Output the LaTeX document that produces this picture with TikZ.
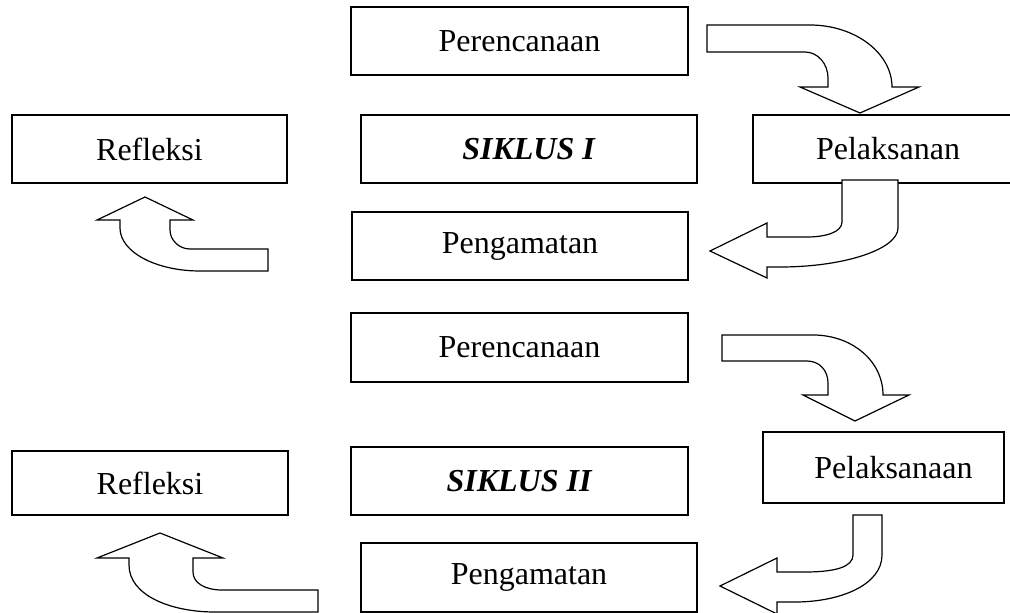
\documentclass[tikz,border=0pt]{standalone}
\usepackage{fontspec}
\setmainfont{Liberation Serif}
\begin{document}
\begin{tikzpicture}[x=0.75pt,y=-0.75pt,
  box/.style={draw=black, line width=1.2pt, fill=white, inner sep=0pt,
    font=\fontsize{24}{28}\selectfont},
  blockarrow/.style={draw=black, line width=0.9pt, fill=white, line join=miter}]
\useasboundingbox (0,0) rectangle (1010,613);
\clip (0,0) rectangle (1010,613);

% ---- Siklus I ----
\node[box, minimum width=252.75pt, minimum height=51pt] (per1) at (519.5,41) {Perencanaan};
\node[box, minimum width=206.25pt, minimum height=51pt] (ref1) at (149.5,149) {Refleksi};
\node[box, minimum width=252pt, minimum height=51pt] (sik1) at (529,149) {\textbf{\textit{SIKLUS I}}};
\node[box, minimum width=202.5pt, minimum height=51pt] (pel1) at (888,149) {Pelaksanan};
\node[box, minimum width=252pt, minimum height=51pt] (pen1) at (520,246) {Pengamatan};

% ---- Siklus II ----
\node[box, minimum width=252.75pt, minimum height=51.75pt] (per2) at (519.5,347.5) {Perencanaan};
\node[box, minimum width=180.75pt, minimum height=53.25pt] (pel2) at (883.5,467.5) {\hspace*{15pt}Pelaksanaan};
\node[box, minimum width=207pt, minimum height=48pt] (ref2) at (150,483) {Refleksi};
\node[box, minimum width=252.75pt, minimum height=51pt] (sik2) at (519.5,481) {\textbf{\textit{SIKLUS II}}};
\node[box, minimum width=252pt, minimum height=51.75pt] (pen2) at (529,577.5) {Pengamatan};

% ---- curved block arrows, cycle I ----
% Perencanaan -> Pelaksanan
\draw[blockarrow] (707,25) -- (810,25) .. controls (855,25) and (892,53) .. (892,87)
  -- (919,87) -- (860,113) -- (800,87) -- (828,87) -- (828,78)
  .. controls (828,64) and (818,52) .. (805,52) -- (707,52) -- cycle;
% Pelaksanan -> Pengamatan
\draw[blockarrow] (842,180) -- (898,180) -- (898,228)
  .. controls (898,249) and (845,267) .. (780,267) -- (767,267) -- (767,278)
  -- (710,251) -- (767,223) -- (767,237) -- (807,237)
  .. controls (826,237) and (842,232) .. (842,222) -- cycle;
% Pengamatan -> Refleksi
\draw[blockarrow] (268,271) -- (268,249) -- (190,249)
  .. controls (179,249) and (170,240) .. (170,230) -- (170,220)
  -- (193,220) -- (145,197) -- (97,220) -- (120,220) -- (120,228)
  .. controls (120,252) and (156,271) .. (200,271) -- cycle;

% ---- curved block arrows, cycle II ----
% Perencanaan -> Pelaksanaan
\draw[blockarrow] (722,335) -- (813,335) .. controls (852,335) and (883,361) .. (883,395)
  -- (909,395) -- (855,421) -- (803,395) -- (828,395) -- (828,383)
  .. controls (828,370) and (819,361) .. (807,361) -- (722,361) -- cycle;
% Pelaksanaan -> Pengamatan
\draw[blockarrow] (853,515) -- (882,515) -- (882,555)
  .. controls (882,585) and (840,602) .. (795,602) -- (777,602) -- (777,614)
  -- (720,586) -- (777,558) -- (777,572) -- (805,572)
  .. controls (835,572) and (853,567) .. (853,555) -- cycle;
% Pengamatan -> Refleksi
\draw[blockarrow] (318,612) -- (318,590) -- (222,590)
  .. controls (205,590) and (193,583) .. (193,572) -- (193,558)
  -- (223,558) -- (160,533) -- (97,558) -- (129,558) -- (129,565)
  .. controls (129,595) and (170,612) .. (215,612) -- cycle;
\end{tikzpicture}
\end{document}
